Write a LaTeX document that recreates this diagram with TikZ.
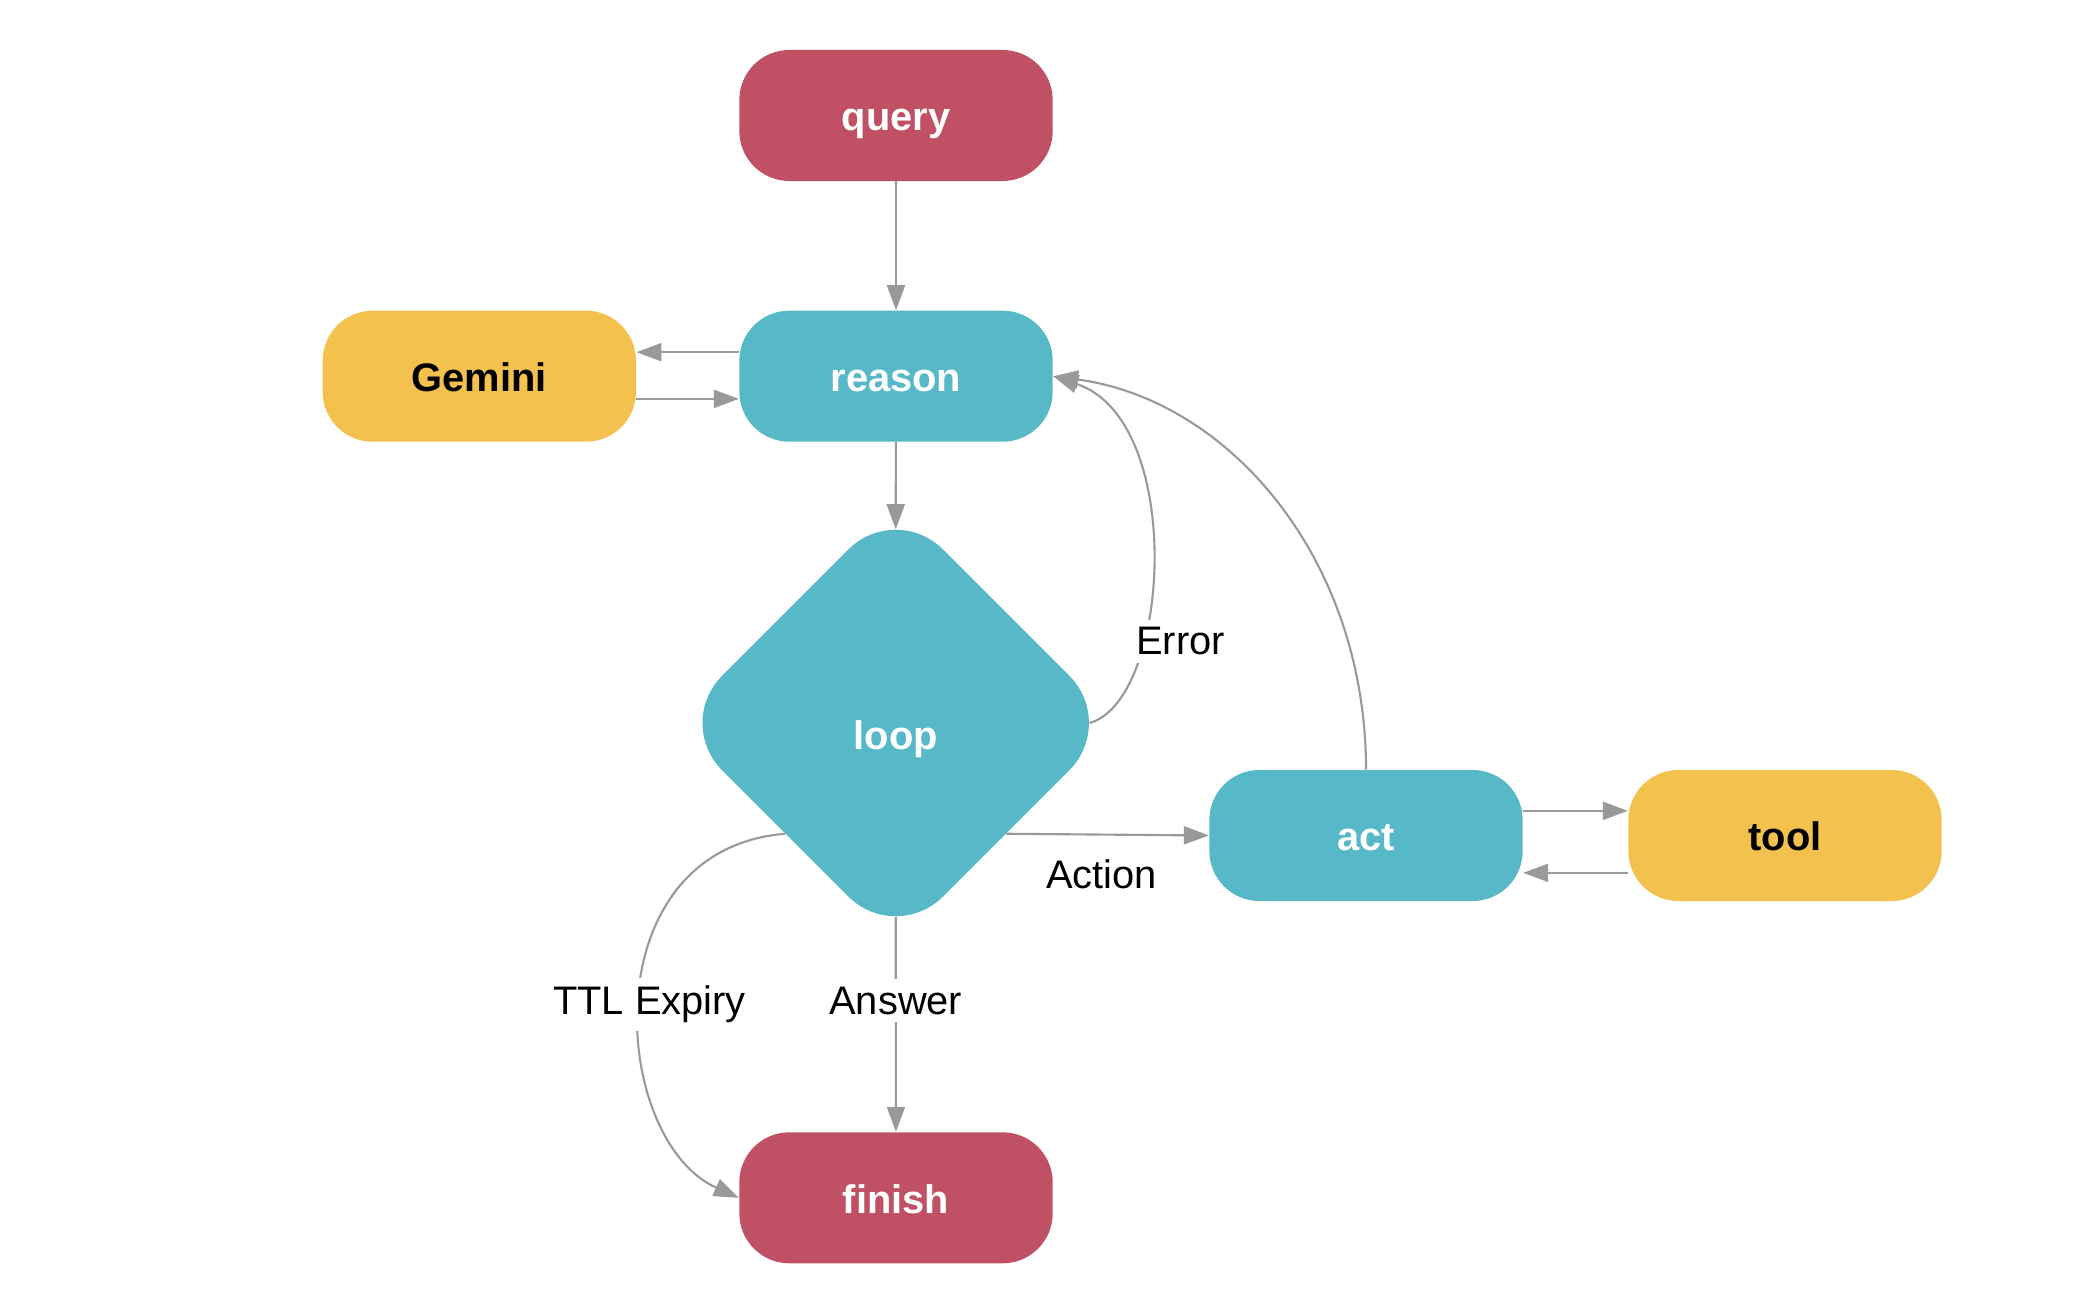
\documentclass[tikz,border=0pt]{standalone}
\usepackage{fontspec}
\setmainfont{Liberation Sans}
\usetikzlibrary{shapes.geometric,arrows.meta}
\definecolor{qred}{HTML}{C05164}
\definecolor{qteal}{HTML}{57B9C8}
\definecolor{qgold}{HTML}{F2C14E}
\definecolor{qgray}{HTML}{999999}
\begin{document}
\begin{tikzpicture}[x=0.015cm, y=-0.015cm,
                box/.style={rectangle, rounded corners=0.75cm, minimum width=4.7cm, minimum height=1.965cm, inner sep=0pt, font=\fontsize{17}{20}\selectfont\bfseries, text height=13.2pt, text depth=0pt},
                redbox/.style={box, fill=qred, text=white},
                tealbox/.style={box, fill=qteal, text=white},
                goldbox/.style={box, fill=qgold, text=black},
                loopbox/.style={diamond, fill=qteal, text=white, minimum width=6.63cm, minimum height=6.63cm, inner sep=0pt, rounded corners=1cm, font=\fontsize{17}{20}\selectfont\bfseries, text height=23pt, text depth=0pt},
                arr/.style={draw=qgray, line width=0.9pt, -{Triangle[length=0.375cm, width=0.27cm]}},
                elbl/.style={font=\fontsize{17}{20}\selectfont, text=black},
                lbl/.style={elbl, fill=white}]
                \useasboundingbox (0,0) rectangle (2084,1292);
                \node[redbox] (query) at (896,115.5) {query};
                \node[tealbox] (reason) at (896,376.2) {reason};
                \node[goldbox] (gemini) at (479.3,376.2) {Gemini};
                \node[loopbox] (loop) at (895.7,723) {loop};
                \node[tealbox] (act) at (1366,835.5) {act};
                \node[goldbox] (tool) at (1785,835.5) {tool};
                \node[redbox] (finish) at (896,1197.8) {finish};

                \draw[arr] (query) -- (reason); \draw[arr] (reason) -- ([yshift=-0.415cm]loop.north);
                \draw[arr] ([yshift=0.36cm]reason.west) -- ([yshift=0.36cm]gemini.east); \draw[arr] ([yshift=-0.34cm]gemini.east) -- ([yshift=-0.34cm]reason.west);
                \draw[arr] ([yshift=0.37cm]act.east) -- ([yshift=0.37cm]tool.west); \draw[arr] ([yshift=-0.56cm]tool.west) -- ([yshift=-0.56cm]act.east);
                \draw[arr] ([xshift=-0.415cm]loop.east) .. controls (1171,700) and (1186,420) .. node[lbl, pos=.32, xshift=0.54cm, yshift=-0.05cm] {Error} (reason.east);
                \draw[arr] (act) .. controls (1366,560) and (1230,400) .. (reason.east);
                \draw[arr] (loop.-45) -- node[elbl, below=0.24cm, xshift=-0.09cm] {Action} (act.west);
                \draw[arr] ([yshift=0.415cm]loop.south) -- node[lbl, pos=.39] {Answer} (finish);
                \draw[arr] (loop.-135) .. controls (590,850) and (610,1140) .. node[lbl, pos=.5, xshift=0.135cm, yshift=-0.06cm] {TTL Expiry} (finish.west);
            \end{tikzpicture}
\end{document}
